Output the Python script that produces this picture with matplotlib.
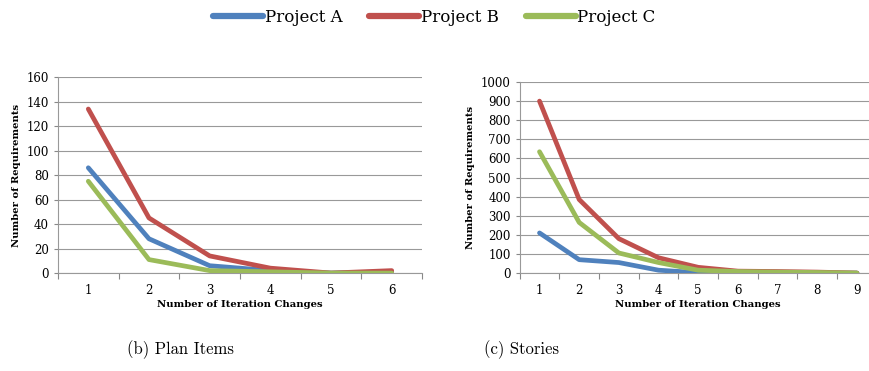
import matplotlib
matplotlib.use("Agg")
import matplotlib.pyplot as plt
from matplotlib.lines import Line2D
import numpy as np

series_names = ["Project A", "Project B", "Project C"]
colors = ["#4F81BD", "#C0504D", "#9BBB59"]

plan_x = [1, 2, 3, 4, 5, 6]
plan_a = [86, 28, 6, 2, 0, 1]
plan_b = [134, 45, 14, 4, 0, 2]
plan_c = [75, 11, 2, 1, 0, 0]

story_x = [1, 2, 3, 4, 5, 6, 7, 8, 9]
story_a = [210, 70, 55, 15, 2, 0, 0, 0, 0]
story_b = [900, 385, 180, 80, 30, 10, 8, 5, 0]
story_c = [635, 265, 105, 55, 15, 8, 5, 3, 0]

serif = "DejaVu Serif"


def draw_panel(ax, x, ys, ymax, ystep):
    for y, c in zip(ys, colors):
        ax.plot(x, y, color=c, lw=3.4, solid_capstyle="round", solid_joinstyle="round", zorder=3)
    n = len(x)
    ax.set_xlim(0.5, n + 0.5)
    ax.set_ylim(0, ymax)
    ax.set_yticks(np.arange(0, ymax + 1, ystep))
    ax.set_xticks(np.arange(0.5, n + 1, 1))
    ax.set_xticklabels([])
    ax.set_xticks(x, minor=True)
    ax.set_xticklabels([str(v) for v in x], minor=True, fontfamily=serif, fontsize=8.5)
    ax.tick_params(axis="x", which="major", length=4, color="#888888", direction="out")
    ax.tick_params(axis="x", which="minor", length=0, pad=8)
    ax.tick_params(axis="y", length=3, color="#888888", labelsize=8.5)
    for lab in ax.get_yticklabels():
        lab.set_fontfamily(serif)
    ax.grid(axis="y", color="#999999", lw=0.8)
    ax.set_axisbelow(True)
    for s in ["top", "right"]:
        ax.spines[s].set_visible(False)
    for s in ["left", "bottom"]:
        ax.spines[s].set_color("#999999")
    ax.set_xlabel("Number of Iteration Changes", fontfamily=serif, fontweight="bold", fontsize=7.2, labelpad=2)
    ax.set_ylabel("Number of Requirements", fontfamily=serif, fontweight="bold", fontsize=7.2)


fig = plt.figure(figsize=(8.69, 3.71), dpi=100)
ax1 = fig.add_axes([0.0667, 0.264, 0.419, 0.528])
ax2 = fig.add_axes([0.598, 0.264, 0.411, 0.515])

draw_panel(ax1, plan_x, [plan_a, plan_b, plan_c], 160, 20)
draw_panel(ax2, story_x, [story_a, story_b, story_c], 1000, 100)

handles = [Line2D([0], [0], color=c, lw=4.5, solid_capstyle="round") for c in colors]
fig.legend(handles, series_names, loc="center", bbox_to_anchor=(0.5, 0.952), ncol=3,
           frameon=False, prop={"family": serif, "size": 12}, handlelength=3.0,
           handletextpad=0.1, columnspacing=1.6)

fig.text(0.208, 0.057, "(b) Plan Items", ha="center", va="center", fontfamily="cmr10", fontsize=12)
fig.text(0.600, 0.057, "(c) Stories", ha="center", va="center", fontfamily="cmr10", fontsize=12)

fig.savefig("out.png", dpi=100)
